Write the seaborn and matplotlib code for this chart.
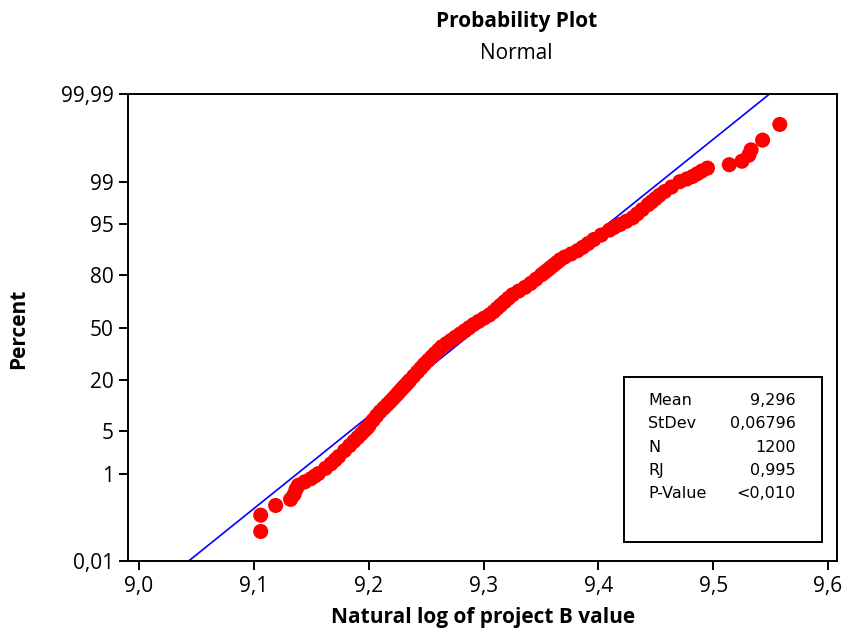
import matplotlib
matplotlib.use("Agg")
import numpy as np
import pandas as pd
import seaborn as sns
import matplotlib.pyplot as plt
from matplotlib.patches import Rectangle
from statistics import NormalDist

# ---------------- data ----------------
percent = [0.058, 0.14, 0.23, 0.31, 0.39, 0.5, 0.6, 0.7, 0.8, 0.9, 1.0, 1.25, 1.5, 1.75,
           2.0, 2.5, 3.0, 3.5, 4.0, 4.5, 5, 5.5, 6, 7, 8, 9, 10, 11, 12, 13, 14, 15, 16,
           17, 18, 19, 20, 22, 24, 26, 28, 30, 32, 34, 36, 38, 40, 42, 44, 46, 48, 50,
           52, 54, 56, 58, 60, 62, 64, 66, 68, 70, 72, 74, 76, 78, 80, 81, 82, 83, 84,
           85, 86, 87, 88, 89, 90, 91, 92, 93, 94, 94.5, 95, 95.5, 96, 96.5, 97, 97.5,
           97.75, 98, 98.25, 98.5, 98.75, 99.0, 99.11, 99.20, 99.29, 99.37, 99.45,
           99.53, 99.60, 99.70, 99.77, 99.86, 99.94]
log_value = [9.106, 9.106, 9.119, 9.132, 9.135, 9.1368, 9.1388, 9.1444, 9.1496, 9.1531,
             9.1562, 9.1625, 9.1672, 9.1709, 9.1739, 9.1790, 9.1834, 9.1871, 9.1905,
             9.1935, 9.1962, 9.1987, 9.2005, 9.2038, 9.2069, 9.2099, 9.2132, 9.2162,
             9.2190, 9.2215, 9.2239, 9.2260, 9.2281, 9.2301, 9.2321, 9.2340, 9.2358,
             9.2392, 9.2425, 9.2456, 9.2485, 9.2517, 9.2548, 9.2578, 9.2608, 9.2637,
             9.2678, 9.2718, 9.2757, 9.2797, 9.2837, 9.2875, 9.2914, 9.2958, 9.3004,
             9.3051, 9.3087, 9.3118, 9.3150, 9.3183, 9.3217, 9.3253, 9.3306, 9.3362,
             9.3412, 9.3457, 9.3504, 9.3530, 9.3556, 9.3582, 9.3609, 9.3638, 9.3667,
             9.3708, 9.3763, 9.3819, 9.3865, 9.3911, 9.3961, 9.4025, 9.4097, 9.4138,
             9.4190, 9.4243, 9.4299, 9.4338, 9.4382, 9.4433, 9.4463, 9.4496, 9.4531,
             9.4578, 9.4637, 9.4709, 9.477, 9.482, 9.486, 9.490, 9.495, 9.514, 9.525,
             9.531, 9.533, 9.543, 9.558]

mean_val = 9.296
stdev_val = 0.06796
stat_names = ["Mean", "StDev", "N", "RJ", "P-Value"]
stat_values = ["9,296", "0,06796", "1200", "0,995", "<0,010"]

fit_percent = [0.01, 99.99]

x_ticks = [9.0, 9.1, 9.2, 9.3, 9.4, 9.5, 9.6]
x_ticklabels = ["9,0", "9,1", "9,2", "9,3", "9,4", "9,5", "9,6"]
y_ticks = [0.01, 1, 5, 20, 50, 80, 95, 99, 99.99]
y_ticklabels = ["0,01", "1", "5", "20", "50", "80", "95", "99", "99,99"]

# ---------------- figure ----------------
sns.set_style("white")
plt.rcParams["font.family"] = ["Open Sans", "DejaVu Sans"]
plt.rcParams["text.color"] = "black"

W, H = 849, 632
fig = plt.figure(figsize=(W / 100, H / 100), dpi=100)
L, R, T, B = 128.3, 837.0, 94.3, 561.0
ax = fig.add_axes([L / W, 1 - B / H, (R - L) / W, (B - T) / H])

nd = NormalDist()


def fwd(p):
    p = np.clip(np.asarray(p, dtype=float) / 100.0, 1e-12, 1 - 1e-12)
    return np.vectorize(nd.inv_cdf, otypes=[float])(p)


def inv(z):
    return np.vectorize(nd.cdf, otypes=[float])(np.asarray(z, dtype=float)) * 100.0


ax.set_yscale("function", functions=(fwd, inv))

fit_x = [mean_val + stdev_val * nd.inv_cdf(p / 100) for p in fit_percent]
sns.lineplot(x=fit_x, y=fit_percent, color="#0000FF", lw=1.2, ax=ax, zorder=2,
             sort=False, legend=False)

df = pd.DataFrame({"x": log_value, "pct": percent})
sns.scatterplot(data=df, x="x", y="pct", color="#FF0000", s=118, edgecolor="none",
                linewidth=0, ax=ax, zorder=3, legend=False)

ax.set_xlim(8.9907, 9.6078)
ax.set_ylim(0.01, 99.99)
ax.set_xticks(x_ticks)
ax.set_xticklabels(x_ticklabels)
ax.set_yticks(y_ticks)
ax.set_yticklabels(y_ticklabels)
ax.minorticks_off()
ax.yaxis.set_minor_locator(matplotlib.ticker.NullLocator())
ax.set_xlabel("")
ax.set_ylabel("")

for s in ax.spines.values():
    s.set_visible(True)
    s.set_color("black")
    s.set_linewidth(1.4)
    s.set_zorder(4)
ax.tick_params(axis="both", which="major", direction="out", length=6.5, width=1.4,
               color="black", labelsize=15, labelcolor="black", pad=4,
               left=True, bottom=True, top=False, right=False)

# titles and axis labels
fig.text(517 / W, 1 - 26.7 / H, "Probability Plot", ha="center", va="baseline",
         fontsize=15, fontweight="bold", color="black")
fig.text(516 / W, 1 - 59.3 / H, "Normal", ha="center", va="baseline", fontsize=15,
         color="black")
fig.text(483 / W, 1 - 623 / H, "Natural log of project B value", ha="center",
         va="baseline", fontsize=15, fontweight="bold", color="black")
fig.text(19 / W, 1 - 328.5 / H, "Percent", ha="center", va="center", rotation=90,
         fontsize=15, fontweight="bold", color="black")

# statistics box
bx0, bx1, by0, by1 = 624, 822.3, 377.3, 542.3
fig.add_artist(Rectangle((bx0 / W, 1 - by1 / H), (bx1 - bx0) / W, (by1 - by0) / H,
                         transform=fig.transFigure, fill=True, facecolor="white",
                         edgecolor="black", linewidth=1.4, zorder=5))
baselines = [405, 428.3, 451.7, 475, 498.3]
for name, val, yb in zip(stat_names, stat_values, baselines):
    fig.text(648.3 / W, 1 - yb / H, name, ha="left", va="baseline", fontsize=11.5,
             family="DejaVu Sans", color="black", zorder=6)
    fig.text(795.7 / W, 1 - yb / H, val, ha="right", va="baseline", fontsize=11.5,
             family="DejaVu Sans", color="black", zorder=6)

fig.savefig("out.png", dpi=100)
